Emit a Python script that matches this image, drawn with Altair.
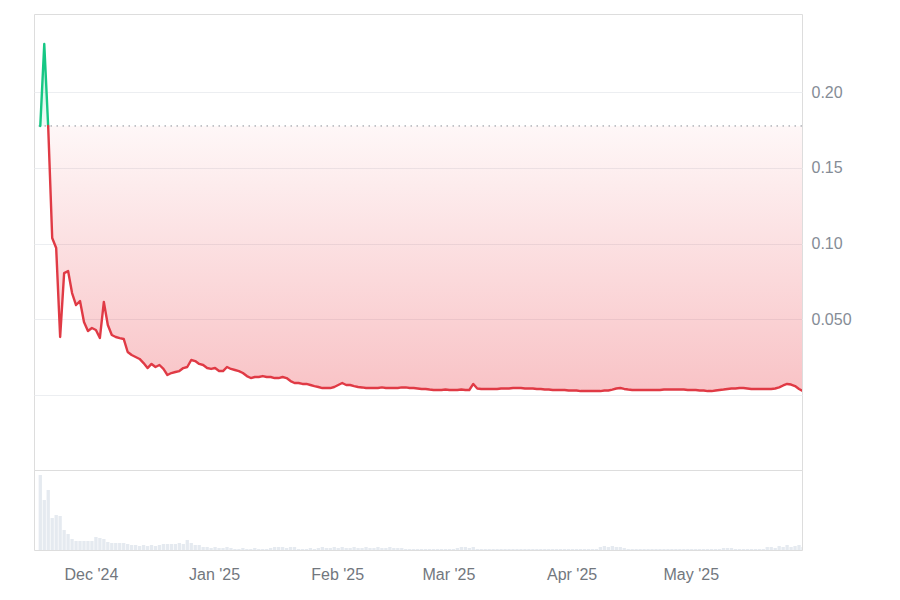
import altair as alt
import pandas as pd

# ---------------- data ----------------
start_date = "2024-11-18 06:00"

prices = [
    0.1776, 0.2317, 0.1765, 0.1036, 0.0970, 0.0383, 0.0805, 0.0818, 0.0673, 0.0594,
    0.0620, 0.0482, 0.0422, 0.0442, 0.0429, 0.0376, 0.0614, 0.0462, 0.0396, 0.0383,
    0.0376, 0.0370, 0.0284, 0.0264, 0.0251, 0.0238, 0.0211, 0.0178, 0.0205, 0.0185,
    0.0198, 0.0172, 0.0132, 0.0145, 0.0152, 0.0158, 0.0178, 0.0185, 0.0231, 0.0224,
    0.0205, 0.0198, 0.0178, 0.0172, 0.0178, 0.0158, 0.0158, 0.0185, 0.0172, 0.0165,
    0.0158, 0.0145, 0.0125, 0.0112, 0.0119, 0.0119, 0.0125, 0.0119, 0.0119, 0.0112,
    0.0112, 0.0119, 0.0112, 0.0092, 0.0079, 0.0079, 0.0073, 0.0073, 0.0066, 0.0059,
    0.0053, 0.0046, 0.0046, 0.0046, 0.0053, 0.0066, 0.0079, 0.0066, 0.0066, 0.0059,
    0.0053, 0.0050, 0.0046, 0.0046, 0.0046, 0.0046, 0.0050, 0.0046, 0.0046, 0.0046,
    0.0046, 0.0050, 0.0050, 0.0046, 0.0046, 0.0043, 0.0040, 0.0040, 0.0036, 0.0033,
    0.0033, 0.0033, 0.0036, 0.0033, 0.0033, 0.0033, 0.0036, 0.0033, 0.0033, 0.0073,
    0.0043, 0.0040, 0.0040, 0.0040, 0.0040, 0.0040, 0.0043, 0.0043, 0.0043, 0.0046,
    0.0046, 0.0046, 0.0043, 0.0043, 0.0043, 0.0040, 0.0040, 0.0036, 0.0036, 0.0033,
    0.0033, 0.0033, 0.0033, 0.0030, 0.0030, 0.0030, 0.0026, 0.0026, 0.0026, 0.0026,
    0.0026, 0.0026, 0.0030, 0.0030, 0.0036, 0.0043, 0.0046, 0.0040, 0.0036, 0.0033,
    0.0033, 0.0033, 0.0033, 0.0033, 0.0033, 0.0033, 0.0033, 0.0036, 0.0036, 0.0036,
    0.0036, 0.0036, 0.0036, 0.0033, 0.0033, 0.0033, 0.0030, 0.0030, 0.0026, 0.0026,
    0.0030, 0.0033, 0.0036, 0.0040, 0.0043, 0.0043, 0.0046, 0.0046, 0.0043, 0.0040,
    0.0040, 0.0040, 0.0040, 0.0040, 0.0040, 0.0043, 0.0050, 0.0063, 0.0073, 0.0069,
    0.0059, 0.0040, 0.0026,
]

volumes = [
    75, 50, 60, 32, 35, 34, 20, 16, 11, 9,
    9, 9, 9, 9, 13, 12, 11, 8, 7, 7,
    7, 7, 6, 5, 5, 4, 5, 4, 5, 4,
    5, 6, 6, 6, 6, 7, 6, 10, 7, 5,
    5, 3, 3, 2, 3, 2, 2, 3, 2, 1,
    1, 2, 1, 1, 2, 1, 1, 1, 2, 3,
    3, 3, 2, 3, 3, 1, 1, 1, 2, 1,
    2, 3, 2, 2, 3, 2, 3, 2, 2, 3,
    2, 2, 3, 2, 2, 3, 2, 2, 3, 2,
    2, 2, 1, 1, 1, 1, 1, 1, 1, 1,
    1, 1, 1, 1, 1, 2, 3, 3, 2, 3,
    1, 1, 1, 1, 1, 1, 1, 1, 1, 1,
    1, 1, 1, 1, 1, 1, 1, 1, 1, 1,
    1, 1, 1, 1, 1, 1, 1, 1, 1, 1,
    1, 3, 4, 3, 4, 3, 3, 2, 1, 1,
    1, 1, 1, 1, 1, 1, 1, 1, 1, 1,
    1, 1, 1, 1, 1, 1, 1, 1, 1, 1,
    1, 1, 2, 2, 2, 1, 1, 1, 1, 1,
    1, 1, 1, 3, 3, 2, 4, 3, 5, 3,
    4, 5, 3,
]

month_ticks = [(2024, 12), (2025, 1), (2025, 2), (2025, 3), (2025, 4), (2025, 5)]
y_ticks = [0, 0.05, 0.10, 0.15, 0.20]

# ---------------- derived tables ----------------
baseline = prices[0]
dates = pd.date_range(start_date, periods=len(prices), freq="D")


def iso(ts):
    return ts.strftime("%Y-%m-%dT%H:%M:%SZ")


def side(v):
    return "up" if v >= baseline else "down"

rows = []
seg = 0
cur = side(prices[0])
rows.append(dict(t=iso(dates[0]), price=prices[0], seg=seg, dir=cur))
for i in range(1, len(prices)):
    s = side(prices[i])
    if s != cur:
        p0, p1 = prices[i - 1], prices[i]
        f = (baseline - p0) / (p1 - p0)
        tc = dates[i - 1] + (dates[i] - dates[i - 1]) * f
        rows.append(dict(t=iso(tc), price=baseline, seg=seg, dir=cur))
        seg += 1
        cur = s
        rows.append(dict(t=iso(tc), price=baseline, seg=seg, dir=cur))
    rows.append(dict(t=iso(dates[i]), price=prices[i], seg=seg, dir=cur))
line_df = pd.DataFrame(rows)
line_df["base"] = baseline

half = pd.Timedelta(hours=10)
vol_df = pd.DataFrame({
    "t0": [iso(d - half) for d in dates],
    "t1": [iso(d + half) for d in dates],
    "vol": volumes[: len(dates)],
})
vol_df["zero"] = 0

# ---------------- styles ----------------
GREEN = "#16c784"
RED = "#e03a45"
FONT = "Liberation Sans"

x_scale = alt.Scale(
    type="utc",
    domain=[
        alt.DateTime(year=2024, month=11, date=16, hours=16, utc=True),
        alt.DateTime(year=2025, month=5, date=29, hours=0, utc=True),
    ],
)
y_scale = alt.Scale(domain=[-0.0495, 0.2515], nice=False, zero=False)

red_grad = alt.Gradient(
    gradient="linear",
    stops=[
        alt.GradientStop(color="rgba(234,57,67,0.04)", offset=0),
        alt.GradientStop(color="rgba(234,57,67,0.30)", offset=1),
    ],
    x1=1, x2=1, y1=0, y2=1,
)
green_grad = alt.Gradient(
    gradient="linear",
    stops=[
        alt.GradientStop(color="rgba(22,199,132,0.30)", offset=0),
        alt.GradientStop(color="rgba(22,199,132,0.05)", offset=1),
    ],
    x1=1, x2=1, y1=0, y2=1,
)

base = alt.Chart(line_df)
x_enc = alt.X("t:T", scale=x_scale, axis=None)

y_axis = alt.Axis(
    orient="right",
    values=y_ticks,
    labelExpr="datum.value == 0 ? '' : (datum.value == 0.05 ? '0.050' : format(datum.value, '.2f'))",
    grid=True,
    gridColor="#eceef1",
    ticks=False,
    domain=False,
    labelPadding=9,
    labelFontSize=16,
    labelColor="#858c96",
    labelFont=FONT,
    title=None,
)

area_down = base.transform_filter("datum.dir == 'down'").mark_area(color=red_grad, clip=True).encode(
    x=x_enc,
    y=alt.Y("price:Q", scale=y_scale, axis=y_axis),
    y2="base:Q",
    detail="seg:N",
)
area_up = base.transform_filter("datum.dir == 'up'").mark_area(color=green_grad, clip=True).encode(
    x=x_enc,
    y=alt.Y("price:Q", scale=y_scale),
    y2="base:Q",
    detail="seg:N",
)
rule = alt.Chart(pd.DataFrame({"b": [baseline]})).mark_rule(
    color="#8a8f98", strokeDash=[1.5, 4.5], strokeWidth=1
).encode(y=alt.Y("b:Q", scale=y_scale))
lines = base.mark_line(strokeWidth=2.4, strokeJoin="round", strokeCap="round", clip=True).encode(
    x=x_enc,
    y=alt.Y("price:Q", scale=y_scale),
    color=alt.Color("dir:N", scale=alt.Scale(domain=["up", "down"], range=[GREEN, RED]), legend=None),
    detail="seg:N",
)

top = alt.layer(area_down, area_up, rule, lines).properties(width=768, height=456)

bottom = alt.Chart(vol_df).mark_bar(color="#e5eaf0", clip=True).encode(
    x=alt.X(
        "t0:T",
        scale=x_scale,
        axis=alt.Axis(
            values=[alt.DateTime(year=y, month=m, date=1, utc=True) for y, m in month_ticks],
            labelExpr="utcFormat(datum.value, \"%b '%y\")",
            grid=False,
            ticks=False,
            domain=False,
            labelPadding=16,
            labelFontSize=16,
            labelColor="#72777e",
            labelFont=FONT,
            labelFlush=False,
            labelOverlap=False,
            title=None,
        ),
    ),
    x2="t1:T",
    y=alt.Y("vol:Q", scale=alt.Scale(domain=[0, 80], nice=False), axis=None),
    y2="zero:Q",
).properties(width=768, height=80)

chart = (
    alt.vconcat(top, bottom, spacing=0, bounds="flush")
    .properties(padding={"left": 25, "top": 5, "right": 5, "bottom": 5})
    .configure_view(stroke="#e6e8eb", strokeWidth=1)
    .configure(background="white")
)

chart.save("out.html", embed_options={"renderer": "svg", "actions": False})
